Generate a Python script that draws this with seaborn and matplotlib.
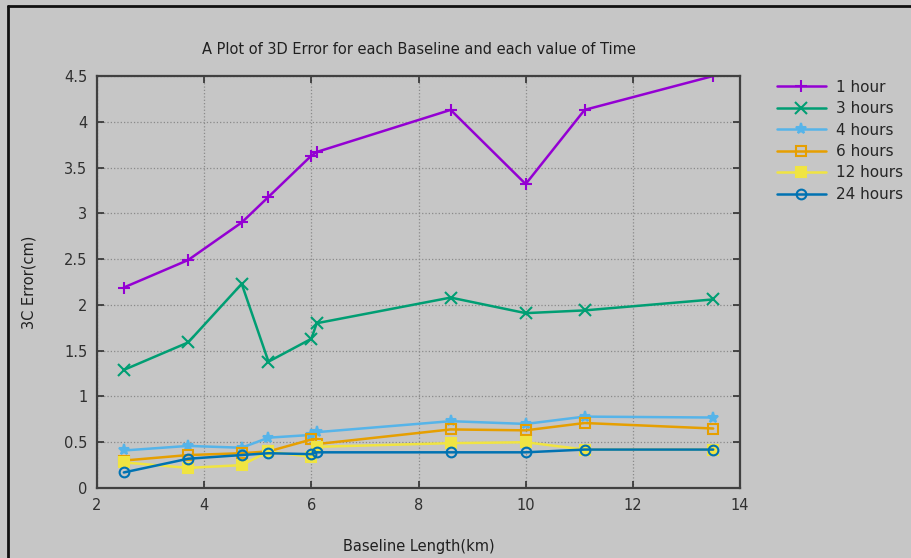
import seaborn as sns
import matplotlib.pyplot as plt
import pandas as pd
import numpy as np
from matplotlib.lines import Line2D

sns.set_style("ticks")
plt.rcParams["font.family"] = ["DejaVu Sans"]

# --- Data ---
baseline_km = [2.5, 3.7, 4.7, 5.2, 6.0, 6.1, 8.6, 10.0, 11.1, 13.5]

err_1h = [2.19, 2.49, 2.90, 3.18, 3.63, 3.67, 4.13, 3.32, 4.13, 4.50]
err_3h = [1.29, 1.59, 2.23, 1.38, 1.63, 1.80, 2.08, 1.91, 1.94, 2.06]
err_4h = [0.41, 0.46, 0.44, 0.55, 0.58, 0.61, 0.73, 0.70, 0.78, 0.77]
err_6h = [0.30, 0.36, 0.38, 0.40, 0.53, 0.48, 0.64, 0.63, 0.71, 0.65]
err_12h = [0.28, 0.22, 0.25, 0.40, 0.34, 0.45, 0.49, 0.50, 0.42, 0.42]
err_24h = [0.17, 0.32, 0.36, 0.38, 0.37, 0.39, 0.39, 0.39, 0.42, 0.42]

labels = ["1 hour", "3 hours", "4 hours", "6 hours", "12 hours", "24 hours"]
series = [err_1h, err_3h, err_4h, err_6h, err_12h, err_24h]

# gnuplot-like colours and point types
colors = ["#9400d3", "#009e73", "#56b4e9", "#e69f00", "#f0e442", "#0072b2"]
markers = ["+", "x", "*", "s", "s", "o"]
filled = [True, True, True, False, True, False]
msizes = [8, 8, 8, 6.5, 6.5, 7]

bg = "#c6c6c6"

fig = plt.figure(figsize=(9.12, 5.58), dpi=100, facecolor=bg)
ax = fig.add_axes([0.1064, 0.1254, 0.705, 0.7384])
ax.set_facecolor(bg)

for lab, vals, c, m, f, ms in zip(labels, series, colors, markers, filled, msizes):
    df = pd.DataFrame({"baseline": baseline_km, "error": vals})
    sns.lineplot(
        data=df, x="baseline", y="error", ax=ax,
        color=c, marker=m, markersize=ms,
        markerfacecolor=c if f else "none",
        markeredgecolor=c, markeredgewidth=1.5,
        linewidth=1.8, label=lab,
    )

ax.set_xlim(2, 14)
ax.set_ylim(0, 4.5)
ax.set_xticks(np.arange(2, 15, 2))
ax.set_yticks(np.arange(0, 4.6, 0.5))
ax.set_yticklabels(["0", "0.5", "1", "1.5", "2", "2.5", "3", "3.5", "4", "4.5"])

ax.grid(True, linestyle=":", color="#8a8a8a", linewidth=0.9)
ax.tick_params(direction="in", length=5, width=1.2, top=True, right=True,
               labelsize=10.5, colors="#303030", pad=7)
for s in ax.spines.values():
    s.set_color("#404040")
    s.set_linewidth(1.6)

ax.set_title("A Plot of 3D Error for each Baseline and each value of Time",
             fontsize=10.5, color="#202020", pad=16)
ax.set_xlabel("Baseline Length(km)", fontsize=10.5, color="#202020", labelpad=19)
ax.set_ylabel("3C Error(cm)", fontsize=10.5, color="#202020", labelpad=20)

ax.legend(loc="upper left", bbox_to_anchor=(0.845, 0.868),
          bbox_transform=fig.transFigure, frameon=False, fontsize=11,
          handlelength=3.2, labelspacing=0.42, handletextpad=0.7,
          borderaxespad=0)

# screenshot frame (top and left edges)
fig.add_artist(Line2D([0.009, 0.009], [0, 0.99], transform=fig.transFigure,
                      color="#101010", linewidth=2))
fig.add_artist(Line2D([0.009, 1.0], [0.99, 0.99], transform=fig.transFigure,
                      color="#101010", linewidth=2))

fig.savefig("out.png", dpi=100, facecolor=bg)
plt.close(fig)
